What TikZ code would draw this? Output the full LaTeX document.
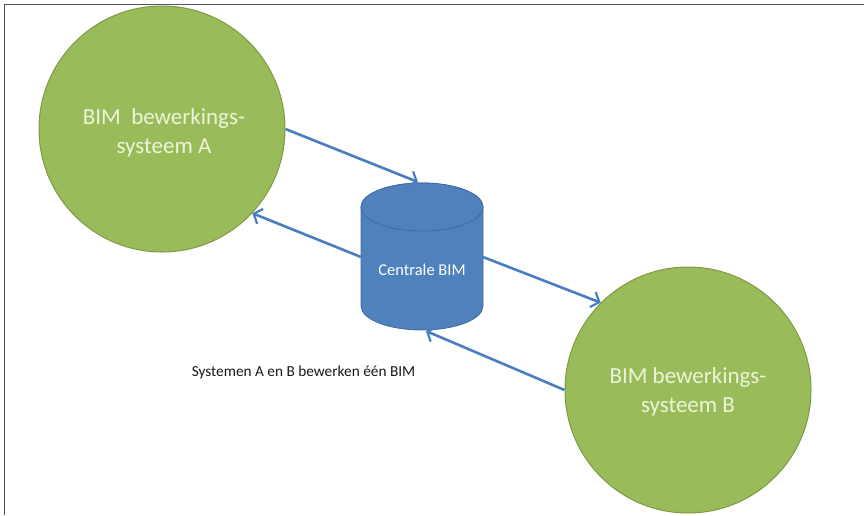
\documentclass[tikz,border=0pt]{standalone}
\usepackage{fontspec}
\setmainfont{Carlito}
\usetikzlibrary{arrows.meta}
\definecolor{gfill}{HTML}{9ABB59}
\definecolor{gline}{HTML}{7F9A45}
\definecolor{bfill}{HTML}{4F81BD}
\definecolor{bline}{HTML}{3F6A9E}
\definecolor{arr}{HTML}{4A7EC0}
\definecolor{frame}{HTML}{555555}
\definecolor{gtext}{HTML}{EEF4DA}
\begin{document}
\begin{tikzpicture}[x=1pt,y=-1pt,
  sysnode/.style={circle,fill=gfill,draw=gline,line width=1pt,minimum size=246pt,inner sep=0pt},
  systext/.style={text=gtext,align=center,font=\fontsize{23}{29.5}\selectfont},
  flow/.style={draw=arr,line width=2.6pt,-{Straight Barb[length=7pt,width=16pt,line width=2.2pt]}},
  cyl/.style={fill=bfill,draw=bline,line width=0.8pt}]
\useasboundingbox (0,0) rectangle (864,515);
\fill[white] (0,0) rectangle (864,515);
\draw[frame,line width=1.6pt] (4.5,515) -- (4.5,4.5) -- (864,4.5);
% circles
\node[sysnode] (A) at (162,129) {};
\node[systext] (At) at (164,133) {BIM\ \ bewerkings-\\systeem A};
\node[sysnode] (B) at (688,390) {};
\node[systext] (Bt) at (688,392) {BIM bewerkings-\\systeem B};
% cylinder
\path[cyl] (361,207) -- (361,306) arc[start angle=180,end angle=0,x radius=61,y radius=24]
  -- (483,207) arc[start angle=0,end angle=-180,x radius=61,y radius=24] -- cycle;
\path[cyl] (422,207) ellipse[x radius=61,y radius=24];
\node[text=white,font=\fontsize{16.5}{19}\selectfont] (C) at (422,270) {Centrale BIM};
\coordinate (Ctop) at (418,182);
\coordinate (Cleft) at (361,257);
\coordinate (Cright) at (483,257);
\coordinate (Cbot) at (426,331);
% arrows
\draw[flow] (A.east) -- (Ctop);
\draw[flow] (Cleft) -- (A.-43);
\draw[flow] (Cright) -- (B.135);
\draw[flow] (B.180) -- (Cbot);
% caption
\node[font=\fontsize{15.3}{18}\selectfont,text=black!90] (cap) at (303.5,372) {Systemen A en B bewerken één BIM};
\end{tikzpicture}
\end{document}
